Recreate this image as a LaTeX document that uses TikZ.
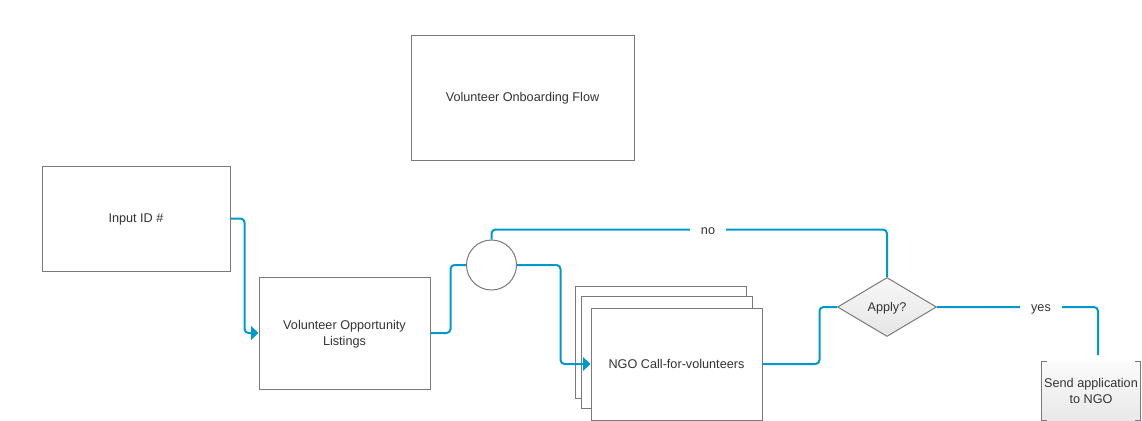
\documentclass[tikz,border=0pt]{standalone}
\usepackage{fontspec}
\setmainfont{Liberation Sans}
\usetikzlibrary{shapes.geometric,arrows.meta}
\definecolor{flowblue}{HTML}{0099CC}
\definecolor{boxgray}{HTML}{7A7A7A}
\definecolor{txt}{HTML}{333333}
\begin{document}
\begin{tikzpicture}[x=0.75pt,y=-0.75pt,
  every node/.style={font=\fontsize{9.5}{12}\selectfont, text=txt},
  one/.style={text height=6.6pt, text depth=0pt},
  box/.style={draw=boxgray, line width=0.75pt, fill=white, inner sep=0pt, align=center},
  flow/.style={draw=flowblue, line width=1.5pt, rounded corners=3pt},
  tip/.style={-{Triangle[length=5.5pt,width=10pt]}},
  lbl/.style={fill=white, inner xsep=8pt, inner ysep=2pt, one}]
\useasboundingbox (0,0) rectangle (1142,421);

\node[box, one, minimum width=167.25pt, minimum height=93.75pt] (title) at (522.5,97.5) {Volunteer Onboarding Flow};
\node[box, one, minimum width=141pt, minimum height=78.75pt] (input) at (136,218.5) {Input ID \#};
\node[box, text depth=-1pt, minimum width=128.25pt, minimum height=84pt] (list) at (344.5,333) {Volunteer Opportunity\\Listings};
\node[circle, draw=boxgray, line width=0.75pt, fill=white, minimum size=37.5pt, inner sep=0pt] (circ) at (491.5,265) {};
\node[box, minimum width=128.25pt, minimum height=84pt] (back) at (660.5,342) {};
\node[box, minimum width=128.25pt, minimum height=84pt] (mid) at (666.5,352) {};
\node[box, one, minimum width=128.25pt, minimum height=84pt] (front) at (676.5,364) {NGO Call-for-volunteers};
\node[diamond, one, draw=boxgray, line width=0.75pt, top color=gray!6, bottom color=gray!20, minimum width=74.25pt, minimum height=44.25pt, inner sep=0pt] (dia) at (887,307) {Apply?};
\node[inner sep=0pt, minimum width=73.5pt, minimum height=43.5pt, top color=gray!3, bottom color=gray!18, align=center] (send) at (1091,391) {Send application\\to NGO};
\draw[boxgray, line width=0.75pt] ([xshift=4pt]send.north west) -- (send.north west) -- (send.south west) -- ([xshift=4pt]send.south west);
\draw[boxgray, line width=0.75pt] ([xshift=-4pt]send.north east) -- (send.north east) -- (send.south east) -- ([xshift=-4pt]send.south east);

\draw[flow,tip] (input.east) -- ++(14,0) |- (list.west);
\draw[flow] (list.east) -- ++(20,0) |- (circ.west);
\draw[flow,tip] (circ.east) -- ++(43.5,0) |- (front.west);
\draw[flow] (circ.north) -- ++(0,-10) -| (dia.north);
\node[lbl] (no) at (708,230) {no};
\draw[flow] (front.east) -- ++(57,0) |- (dia.west);
\coordinate (sendin) at (1098,355);
\draw[flow] (dia.east) -| (sendin);
\node[lbl] (yes) at (1041,307) {yes};
\end{tikzpicture}
\end{document}
